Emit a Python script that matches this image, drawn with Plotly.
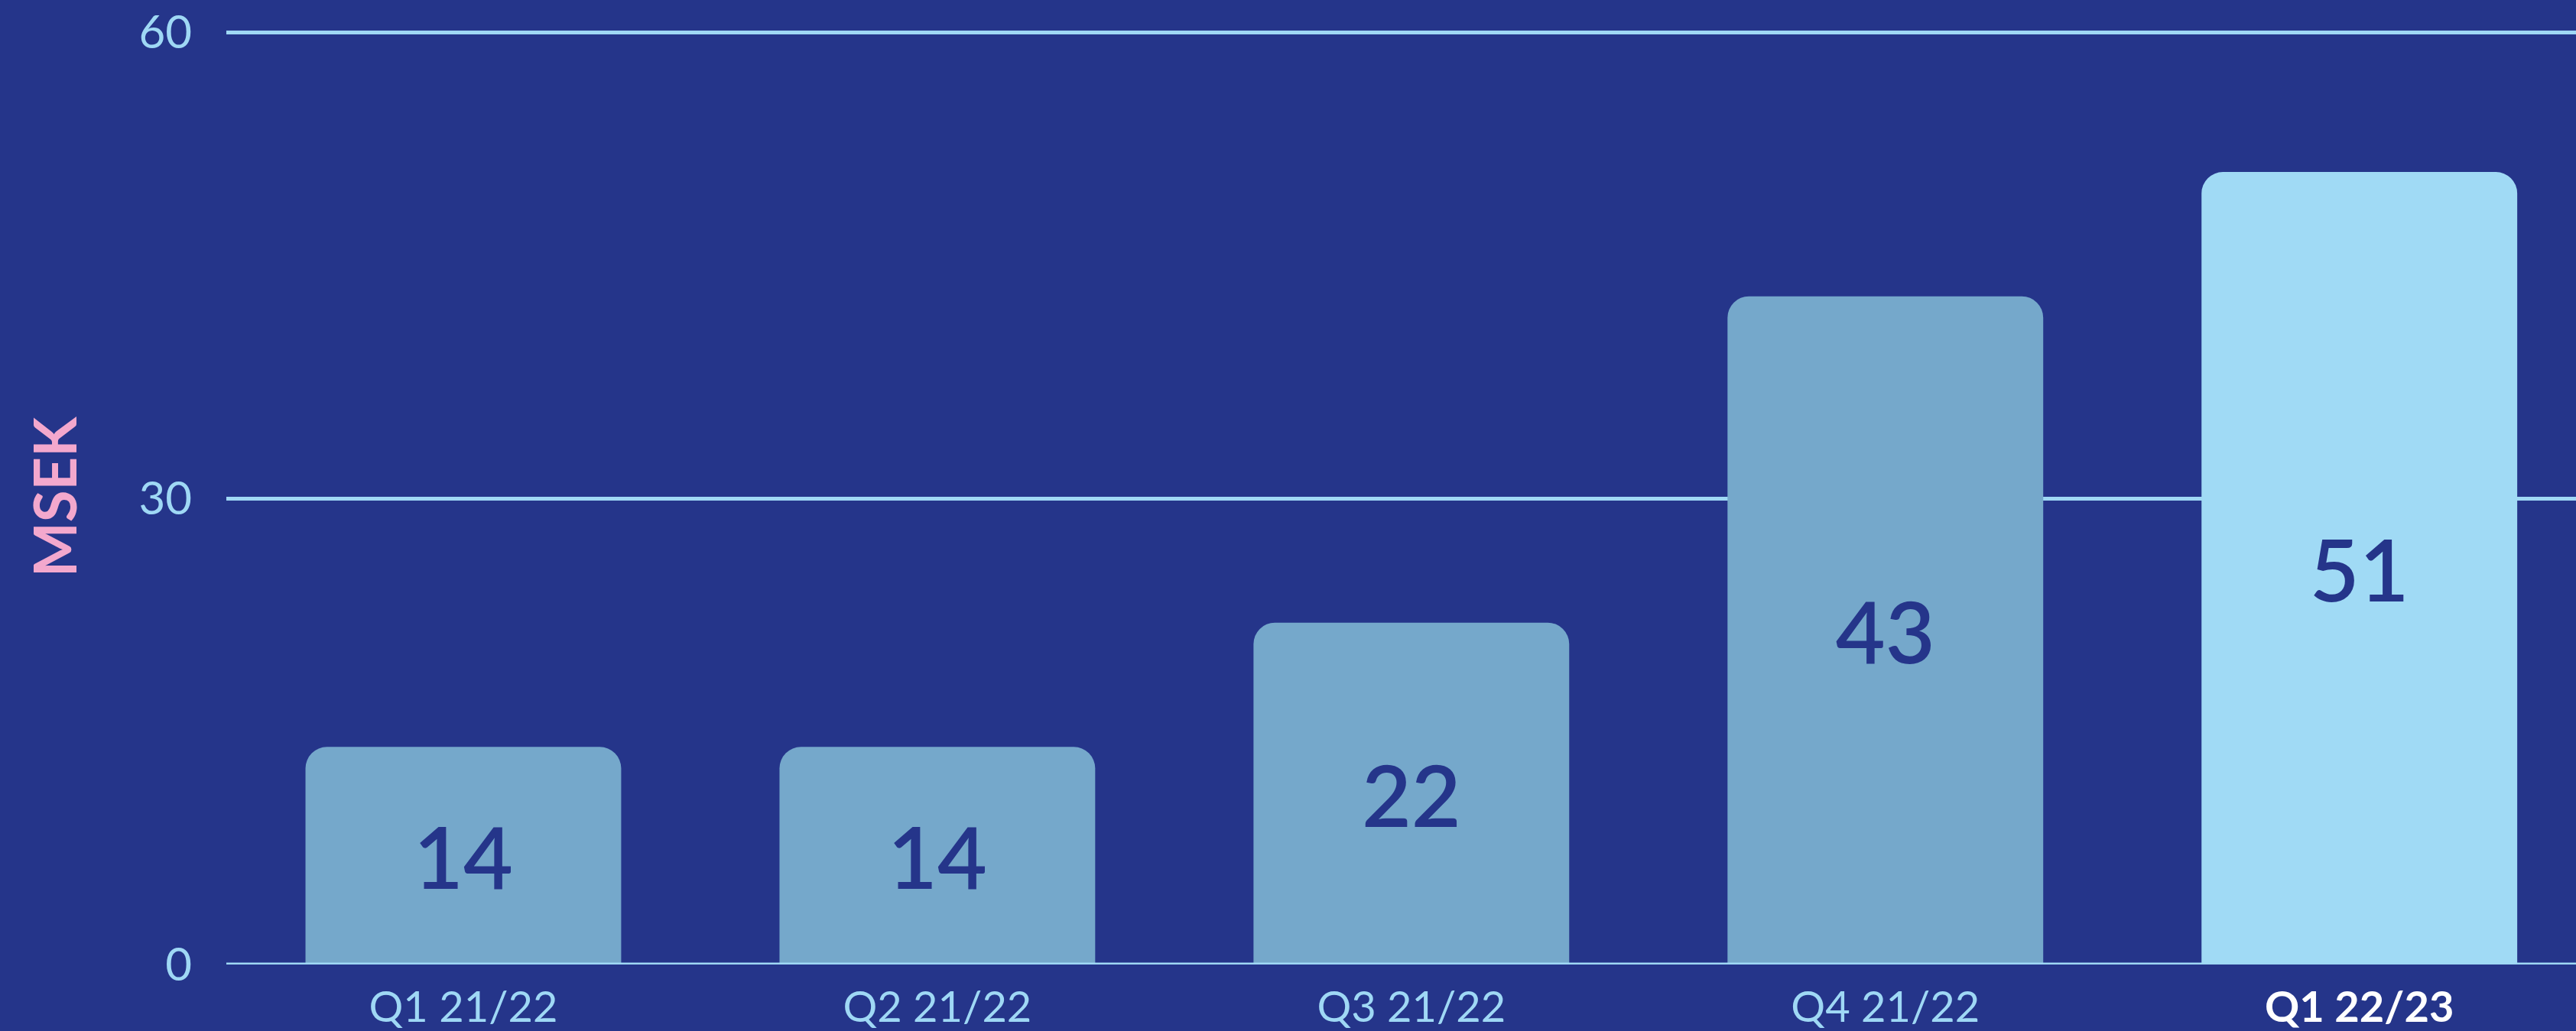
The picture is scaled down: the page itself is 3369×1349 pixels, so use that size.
import plotly.graph_objects as go

categories = ["Q1 21/22", "Q2 21/22", "Q3 21/22", "Q4 21/22", "Q1 22/23"]
values = [14, 14, 22, 43, 51]
tick_labels = ["Q1 21/22", "Q2 21/22", "Q3 21/22", "Q4 21/22",
               "<span style='color:#ffffff'><b>Q1 22/23</b></span>"]
y_ticks = [0, 30, 60]

BG = "#25358A"
BAR = "#75A8CB"
BAR_HL = "#A0DAF5"
LINE = "#9FD8F5"
PINK = "#F3A8CD"
FONT = "Lato"

bar_colors = [BAR] * (len(values) - 1) + [BAR_HL]

fig = go.Figure(
    go.Bar(
        x=categories,
        y=values,
        marker=dict(color=bar_colors, line=dict(width=0)),
        text=[str(v) for v in values],
        textposition="inside",
        insidetextanchor="middle",
        textangle=0,
        textfont=dict(family=FONT, size=112, color=BG, weight=600),
        hoverinfo="skip",
    )
)

fig.update_layout(
    width=3369,
    height=1349,
    autosize=False,
    paper_bgcolor=BG,
    plot_bgcolor=BG,
    margin=dict(l=295.5, r=0, t=38, b=84),
    bargap=0.334,
    barcornerradius=28,
    showlegend=False,
    font=dict(family=FONT, color=LINE),
    xaxis=dict(
        type="category",
        range=[-0.5, 4.457],
        tickmode="array",
        tickvals=categories,
        ticktext=tick_labels,
        tickfont=dict(family=FONT, size=56, color=LINE),
        showgrid=False,
        zeroline=False,
        showline=False,
        ticks="",
        ticklabelstandoff=18,
    ),
    yaxis=dict(
        range=[0, 60.2],
        tickmode="array",
        tickvals=y_ticks,
        ticktext=[str(t) for t in y_ticks],
        tickfont=dict(family=FONT, size=60, color=LINE),
        showgrid=True,
        gridcolor=LINE,
        gridwidth=5,
        zeroline=False,
        showline=False,
        ticks="",
        ticklabelstandoff=44,
    ),
    shapes=[
        dict(type="line", xref="paper", yref="y", x0=0, x1=1, y0=0, y1=0,
             line=dict(color=LINE, width=5), layer="above")
    ],
    annotations=[
        dict(text="<b>MSEK</b>", xref="paper", yref="paper", x=0, y=0.5,
             xanchor="center", yanchor="middle", xshift=-226, textangle=-90,
             showarrow=False, font=dict(family=FONT, size=76, color=PINK))
    ],
)

fig.write_html(
    "out.html",
    config={"displayModeBar": False},
    post_script="document.body.style.margin='0';document.body.style.overflow='hidden';",
)
